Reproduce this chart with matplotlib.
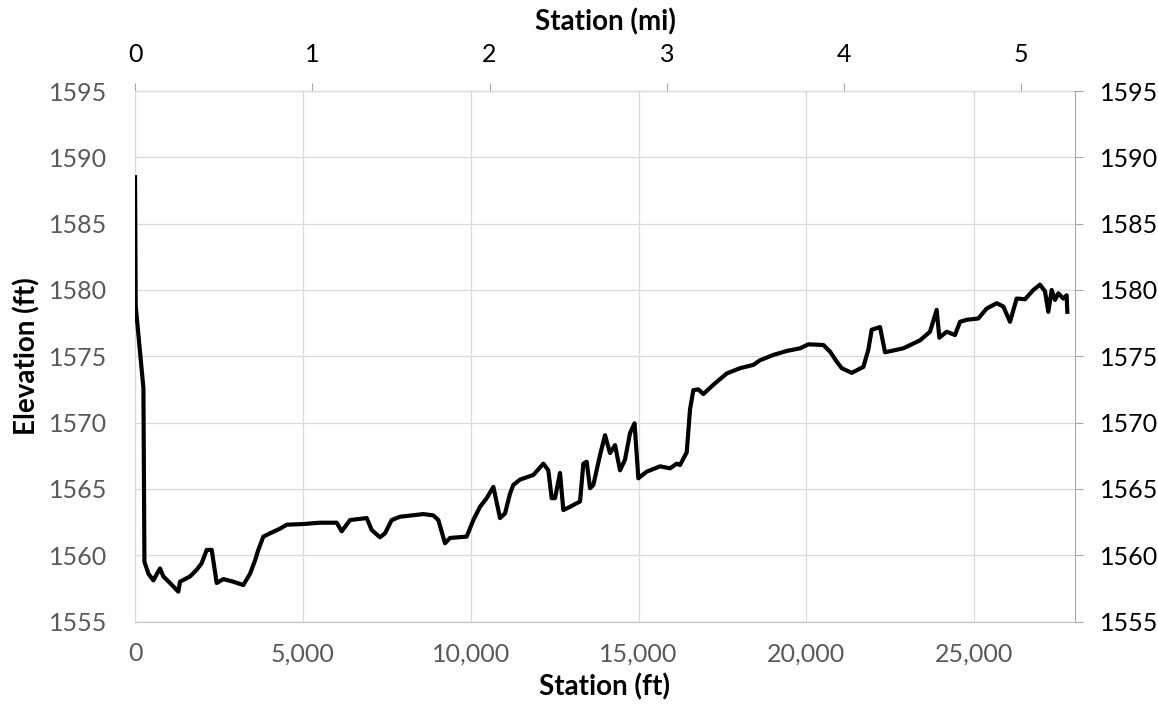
# Elevation profile along station, Excel-style chart with ft / mi axes
import matplotlib.pyplot as plt
from matplotlib.ticker import FuncFormatter, MultipleLocator, FixedLocator

# --- data ---
station_ft = [0, 20, 250, 280, 400, 545, 745, 843, 1043, 1290, 1340, 1640, 1837, 1986,
              2135, 2285, 2433, 2631, 2929, 3226, 3426, 3575, 3673, 3822, 4022, 4319,
              4519, 5013, 5511, 6008, 6157, 6405, 6902, 7051, 7298, 7447, 7646, 7894,
              8588, 8886, 9035, 9234, 9383, 9880, 10078, 10277, 10476, 10675, 10873,
              11022, 11171, 11270, 11469, 11866, 12163, 12312, 12412, 12511, 12660,
              12759, 12958, 13256, 13355, 13454, 13554, 13653, 13852, 14001, 14150,
              14299, 14448, 14596, 14745, 14880, 14993, 15243, 15639, 15937, 16136,
              16235, 16434, 16533, 16632, 16781, 16929, 17227, 17626, 18022, 18419,
              18618, 19015, 19413, 19810, 20058, 20505, 20703, 20902, 21051, 21349,
              21697, 21845, 21945, 22193, 22342, 22888, 23384, 23682, 23880, 23960,
              24179, 24427, 24575, 24774, 25121, 25370, 25668, 25866, 26065, 26264,
              26512, 26760, 26958, 27107, 27206, 27306, 27405, 27504, 27653, 27752,
              27772]
elevation_ft = [1588.5, 1578.8, 1572.6, 1559.5, 1558.6, 1558.1, 1559.0, 1558.4, 1557.9,
                1557.25, 1558.0, 1558.4, 1558.9, 1559.4, 1560.4, 1560.4, 1557.9, 1558.2,
                1558.0, 1557.75, 1558.6, 1559.6, 1560.4, 1561.4, 1561.65, 1562.0, 1562.3,
                1562.35, 1562.45, 1562.45, 1561.8, 1562.65, 1562.8, 1561.9, 1561.35,
                1561.65, 1562.65, 1562.9, 1563.1, 1563.0, 1562.65, 1560.9, 1561.3,
                1561.4, 1562.65, 1563.65, 1564.3, 1565.15, 1562.8, 1563.15, 1564.65,
                1565.3, 1565.7, 1566.05, 1566.9, 1566.4, 1564.3, 1564.3, 1566.2, 1563.4,
                1563.65, 1564.05, 1566.9, 1567.05, 1565.05, 1565.3, 1567.55, 1569.05,
                1567.7, 1568.3, 1566.4, 1567.2, 1569.2, 1569.95, 1565.8, 1566.3, 1566.7,
                1566.55, 1566.9, 1566.8, 1567.75, 1571.0, 1572.45, 1572.5, 1572.15,
                1572.85, 1573.7, 1574.1, 1574.35, 1574.7, 1575.1, 1575.4, 1575.6, 1575.9,
                1575.85, 1575.35, 1574.6, 1574.1, 1573.75, 1574.2, 1575.5, 1577.0,
                1577.2, 1575.3, 1575.6, 1576.2, 1576.85, 1578.5, 1576.4, 1576.85,
                1576.6, 1577.6, 1577.75, 1577.85, 1578.6, 1579.0, 1578.75, 1577.6,
                1579.35, 1579.3, 1580.0, 1580.4, 1579.9, 1578.35, 1580.0, 1579.25,
                1579.75, 1579.35, 1579.6, 1578.35]
mile_ticks = [0, 1, 2, 3, 4, 5]

FT_PER_MI = 5280
X_MAX = 28000
Y_MIN, Y_MAX = 1555, 1595

plt.rcParams['font.family'] = ['Lato', 'DejaVu Sans']

fig, ax = plt.subplots(figsize=(11.58, 7.19), dpi=100)
fig.subplots_adjust(left=0.1166, right=0.9283, top=0.8734, bottom=0.1356)

ax.plot(station_ft, elevation_ft, color='black', lw=3.0, zorder=3,
        solid_joinstyle='round')

ax.set_xlim(0, X_MAX)
ax.set_ylim(Y_MIN, Y_MAX)
ax.xaxis.set_major_locator(MultipleLocator(5000))
ax.yaxis.set_major_locator(MultipleLocator(5))
ax.xaxis.set_major_formatter(FuncFormatter(lambda v, p: f'{v:,.0f}'))
ax.grid(True, color='#d9d9d9', lw=0.9, zorder=0)

ax.spines['top'].set_visible(False)
ax.spines['right'].set_visible(False)
ax.spines['left'].set_color('#d9d9d9')
ax.spines['bottom'].set_color('#bfbfbf')
ax.tick_params(axis='both', length=0, labelsize=18, labelcolor='#595959')
ax.tick_params(axis='x', pad=15)
ax.tick_params(axis='y', pad=20)

ax.set_xlabel('Station (ft)', fontsize=20, fontweight='bold', labelpad=6)
ax.set_ylabel('Elevation (ft)', fontsize=20, fontweight='bold', labelpad=6)

# secondary axes: miles on top, elevation repeated on the right
top = ax.secondary_xaxis('top', functions=(lambda x: x / FT_PER_MI, lambda m: m * FT_PER_MI))
top.xaxis.set_major_locator(FixedLocator(mile_ticks))
top.spines['top'].set_color('#a6a6a6')
top.tick_params(length=6, color='#a6a6a6', labelsize=18, labelcolor='black', pad=12)
top.set_xlabel('Station (mi)', fontsize=20, fontweight='bold', labelpad=9)

right = ax.secondary_yaxis('right')
right.yaxis.set_major_locator(MultipleLocator(5))
right.spines['right'].set_color('#a6a6a6')
right.tick_params(length=6, color='#a6a6a6', labelsize=18, labelcolor='black', pad=12)

plt.savefig('out.png', dpi=100)
